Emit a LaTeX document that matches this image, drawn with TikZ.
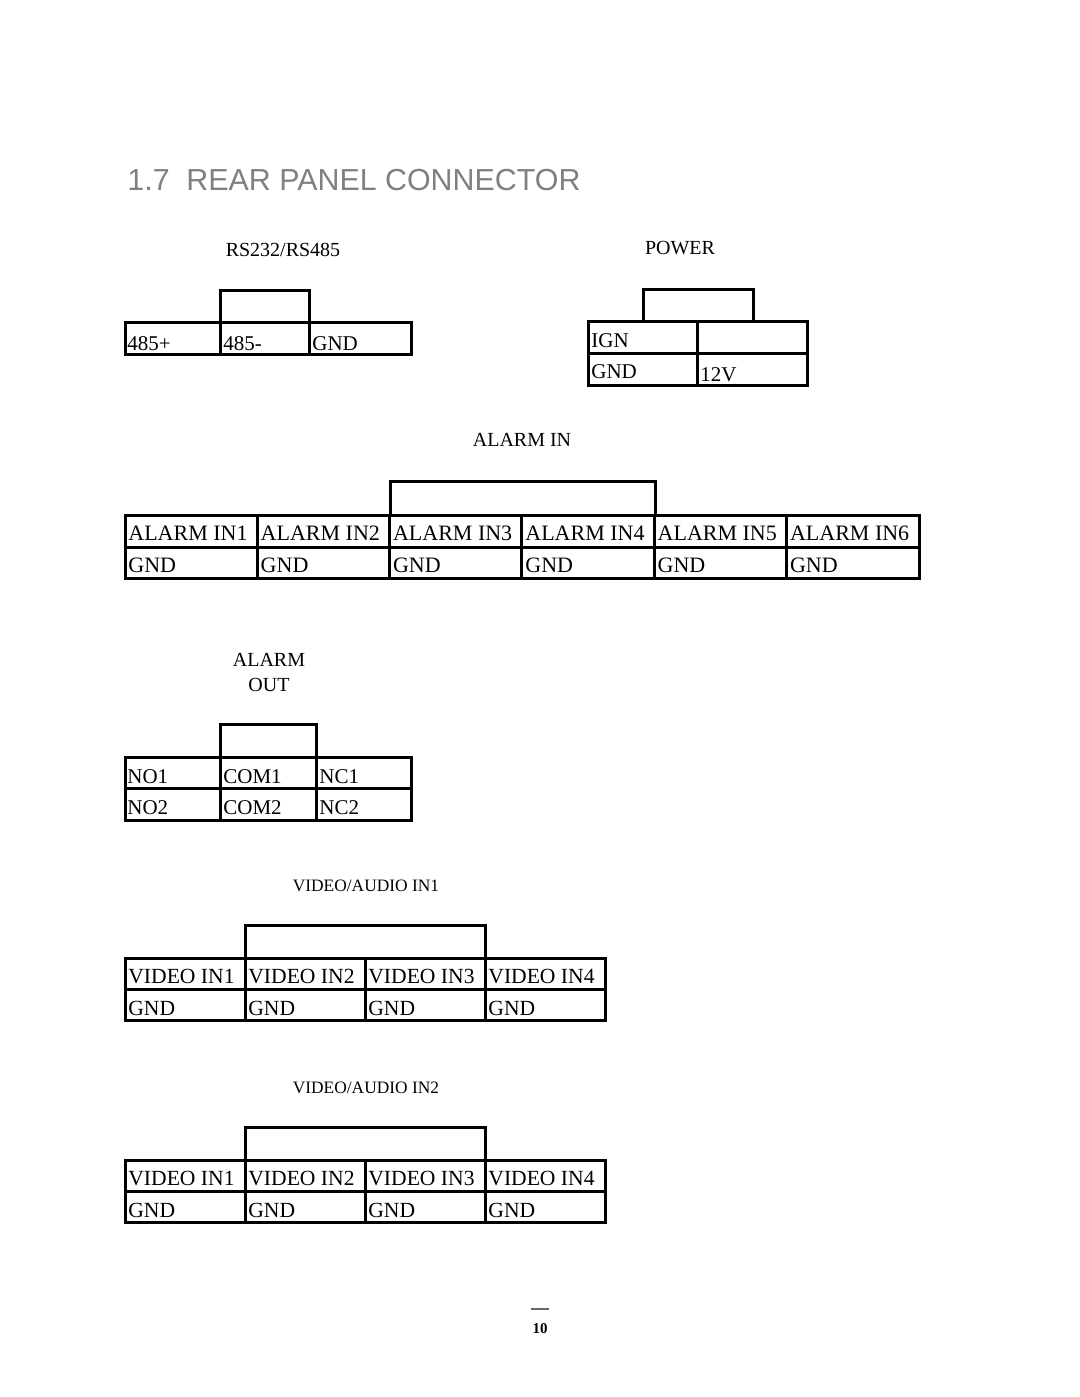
\documentclass[tikz,border=0pt]{standalone}
\usepackage{fontspec}
\setmainfont{Liberation Serif}
\setsansfont{Liberation Sans}

\begin{document}
\begin{tikzpicture}[x=0.5pt,y=-0.5pt,
    box/.style={line width=1.5pt},
    pin/.style={anchor=base west,inner sep=0pt,font=\fontsize{10.5}{12}\selectfont},
    caption/.style={anchor=base,inner sep=0pt,font=\fontsize{10}{12}\selectfont}]
    \useasboundingbox (0,0) rectangle (1080,1397);

    % Title
    \node[anchor=base west,inner sep=0pt,text=black!50,font=\sffamily\fontsize{15.2}{18}\selectfont]
        (title) at (127,190) {1.7\hspace{0.55em}REAR PANEL CONNECTOR};

    % RS232/RS485 connector
    \node[caption] (rslbl) at (283,256) {RS232/RS485};
    \draw[box] (125,322) rectangle (411,354);
    \draw[box] (220,354) -- (220,290) -- (309,290) -- (309,354);
    \node[pin] (rsplus) at (127,350) {485+};
    \node[pin] (rsminus) at (223,350) {485-};
    \node[pin] (rsgnd) at (312,350) {GND};

    % Power connector
    \node[caption] (pwrlbl) at (680,254) {POWER};
    \draw[box] (588,321) rectangle (807,385);
    \draw[box] (588,353) -- (807,353);
    \draw[box] (697,321) -- (697,385);
    \draw[box] (643,321) -- (643,289) -- (753,289) -- (753,321);
    \node[pin] (pwrign) at (591,347) {IGN};
    \node[pin] (pwrgnd) at (591,378) {GND};
    \node[pin] (pwr12v) at (700,381) {12V};

    % Alarm in connector
    \node[caption] (ainlbl) at (522,446) {ALARM IN};
    \draw[box] (125,515) rectangle (919,578);
    \draw[box] (125,547) -- (919,547);
    \draw[box] (390,515) -- (390,481) -- (655,481) -- (655,515);
    \foreach \i in {1,...,6} {
        \pgfmathsetmacro\xl{125+(\i-1)*132.33}
        \draw[box] (\xl,515) -- (\xl,578);
        \node[pin,font=\fontsize{11}{13}\selectfont] (ain\i) at (\xl+3,540) {ALARM IN\i};
        \node[pin,font=\fontsize{11}{13}\selectfont] (aingnd\i) at (\xl+3,572) {GND};
    }

    % Alarm out connector
    \node[caption] (aoutlbl) at (269,666) {ALARM};
    \node[caption] (aoutlblb) at (269,691) {OUT};
    \draw[box] (125,757) rectangle (411,820);
    \draw[box] (125,788) -- (411,788);
    \draw[box] (220,757) -- (220,820);
    \draw[box] (316,757) -- (316,820);
    \draw[box] (220,757) -- (220,724) -- (316,724) -- (316,757);
    \node[pin] (no1) at (127,783) {NO1};
    \node[pin] (com1) at (223,783) {COM1};
    \node[pin] (nc1) at (319,783) {NC1};
    \node[pin] (no2) at (127,814) {NO2};
    \node[pin] (com2) at (223,814) {COM2};
    \node[pin] (nc2) at (319,814) {NC2};

    % Video/audio in 1 and 2
    \foreach \k/\yt in {1/958,2/1160} {
        \node[caption,font=\fontsize{8.7}{10}\selectfont] (valbl\k) at (366,\yt-67) {VIDEO/AUDIO IN\k};
        \draw[box] (125,\yt) rectangle (605,\yt+62);
        \draw[box] (125,\yt+31) -- (605,\yt+31);
        \draw[box] (245,\yt) -- (245,\yt-33) -- (485,\yt-33) -- (485,\yt);
        \foreach \i in {1,...,4} {
            \pgfmathsetmacro\xl{125+(\i-1)*120}
            \draw[box] (\xl,\yt) -- (\xl,\yt+62);
            \node[pin,font=\fontsize{10.8}{12}\selectfont] (vin\k\i) at (\xl+3,\yt+25) {VIDEO IN\i};
            \node[pin,font=\fontsize{10.8}{12}\selectfont] (vgnd\k\i) at (\xl+3,\yt+57) {GND};
        }
    }

    % Page number
    \draw[black!60,line width=1pt] (531,1309) -- (549,1309);
    \node[anchor=base,inner sep=0pt,font=\bfseries\fontsize{7.5}{9}\selectfont] (pgnum) at (540,1333) {10};
\end{tikzpicture}
\end{document}
